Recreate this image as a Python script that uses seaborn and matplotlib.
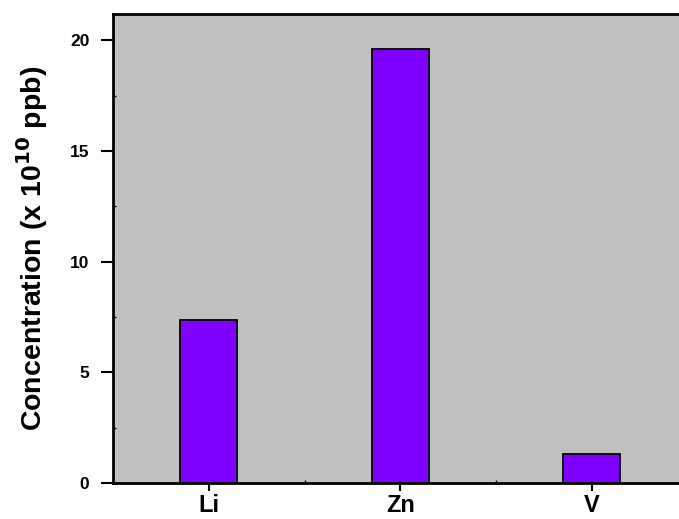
import matplotlib
matplotlib.use("Agg")
import matplotlib.pyplot as plt
import seaborn as sns
import pandas as pd
from matplotlib.ticker import MultipleLocator

elements = ["Li", "Zn", "V"]
concentration = [7.34, 19.58, 1.31]

df = pd.DataFrame({"element": elements, "conc": concentration})

sns.set_style("white")
plt.rcParams["font.family"] = ["Liberation Sans", "DejaVu Sans"]
plt.rcParams["text.color"] = "black"
plt.rcParams["axes.labelcolor"] = "black"
plt.rcParams["xtick.color"] = "black"
plt.rcParams["ytick.color"] = "black"

fig = plt.figure(figsize=(6.79, 5.19), dpi=100)
W, H = 679, 519
left, right, top, bottom = 113, 690, 14, 483
ax = fig.add_axes([left / W, (H - bottom) / H, (right - left) / W, (bottom - top) / H])
ax.set_facecolor("#C0C0C0")

sns.barplot(data=df, x="element", y="conc", color="#7F00FF", saturation=1,
            width=0.3, edgecolor="black", linewidth=1.3, ax=ax)

ax.set_ylim(0, (bottom - top) / 22.14)
ax.set_xlim(-0.5, -0.5 + (right - left) / 191.5)

ax.yaxis.set_major_locator(MultipleLocator(5))
ax.yaxis.set_minor_locator(MultipleLocator(2.5))
ax.set_xticks(range(len(elements)))
ax.set_xticks([0.5, 1.5], minor=True)

ax.tick_params(axis="both", which="both", left=True, bottom=True, top=False, right=False,
               colors="black")
ax.tick_params(axis="y", which="major", direction="out", length=9, width=1.5,
               labelsize=12.5, pad=8)
ax.tick_params(axis="x", which="major", direction="out", length=6, width=1.5,
               labelsize=17, pad=2)
ax.tick_params(axis="both", which="minor", direction="in", length=2.5, width=1)
for lab in ax.get_yticklabels() + ax.get_xticklabels():
    lab.set_fontweight("bold")
    lab.set_color("black")

for s in ax.spines.values():
    s.set_linewidth(2)
    s.set_color("black")

ax.set_xlabel("")
ax.set_ylabel(r"Concentration (x 10$^{\mathbf{10}}$ ppb)", fontsize=20.5,
              fontweight="bold", labelpad=14, color="black")

fig.savefig("out.png", dpi=100)
